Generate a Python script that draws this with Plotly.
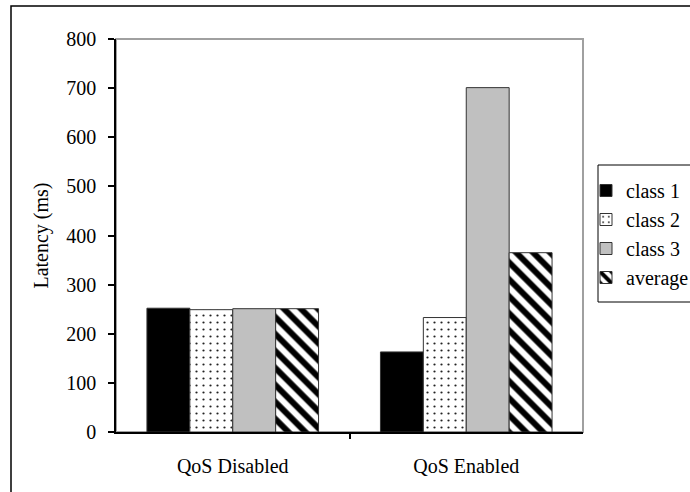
import plotly.graph_objects as go

categories = ["QoS Disabled", "QoS Enabled"]
series_names = ["class 1", "class 2", "class 3", "average"]
class1 = [252, 163]
class2 = [249, 233]
class3 = [251, 701]
average = [251, 365]
y_ticks = [0, 100, 200, 300, 400, 500, 600, 700, 800]

W, H = 690, 492
L, R, T, B = 116, 583, 39, 432

def px_x(p):
    return (p - L) / (R - L)

def px_y(p):
    return (B - p) / (B - T)

FONT = "Liberation Serif, Times New Roman, serif"
F20 = dict(family=FONT, size=20, color="black")

styles = [
    dict(color="black", pattern=None),
    dict(color="white", pattern=dict(shape=".", fgcolor="#222222", bgcolor="white", size=7,
                                     solidity=0.08, fgopacity=1)),
    dict(color="#c0c0c0", pattern=None),
    dict(color="white", pattern=dict(shape="\\", fgcolor="black", bgcolor="white", size=12,
                                     solidity=0.5, fgopacity=1)),
]

fig = go.Figure()
for name, vals, st in zip(series_names, [class1, class2, class3, average], styles):
    marker = dict(color=st["color"], line=dict(color="#333333", width=1))
    if st["pattern"]:
        marker["pattern"] = st["pattern"]
    fig.add_trace(go.Bar(name=name, x=categories, y=vals, marker=marker))

# invisible trace on numeric overlay axis for middle boundary tick
fig.add_trace(go.Scatter(x=[0.5], y=[0], xaxis="x2", mode="markers",
                         marker=dict(opacity=0), showlegend=False, hoverinfo="skip"))

fig.update_layout(
    width=W, height=H,
    margin=dict(l=L, r=W - R, t=T, b=H - B, autoexpand=False),
    paper_bgcolor="white", plot_bgcolor="white",
    barmode="group", bargap=0.265, bargroupgap=0,
    font=F20,
    showlegend=True,
    legend=dict(x=px_x(586), y=px_y(171), xanchor="left", yanchor="top",
                borderwidth=0, bgcolor="rgba(0,0,0,0)",
                font=F20, itemwidth=30, tracegroupgap=0),
    xaxis=dict(type="category", showline=True, linecolor="black", linewidth=1.5,
               ticks="", showgrid=False, tickfont=F20, ticklabelstandoff=15,
               range=[-0.5, 1.5], zeroline=False),
    xaxis2=dict(overlaying="x", range=[-0.5, 1.5], tickvals=[0.5], ticks="outside",
                ticklen=6, tickcolor="black", tickwidth=1.5, showticklabels=False,
                showgrid=False, zeroline=False, showline=False),
    yaxis=dict(range=[0, 800], tickvals=y_ticks, ticks="outside", ticklen=6,
               tickcolor="black", tickwidth=1.5, showline=True, linecolor="black",
               linewidth=1.5, showgrid=False, zeroline=False, ticklabelstandoff=8,
               title=dict(text="Latency (ms)", font=F20, standoff=12),
               tickfont=F20),
    shapes=[
        dict(type="rect", xref="paper", yref="paper", x0=0, y0=0, x1=1, y1=1,
             line=dict(color="#a0a0a0", width=2), layer="below"),
        dict(type="rect", xref="paper", yref="paper", x0=px_x(11), y0=px_y(6),
             x1=px_x(700), y1=px_y(500), line=dict(color="black", width=1.5),
             layer="below"),
        dict(type="rect", xref="paper", yref="paper", x0=px_x(598), y0=px_y(165),
             x1=px_x(700), y1=px_y(302), line=dict(color="black", width=1),
             fillcolor="white", layer="below"),
    ],
)

fig.write_html("out.html")
